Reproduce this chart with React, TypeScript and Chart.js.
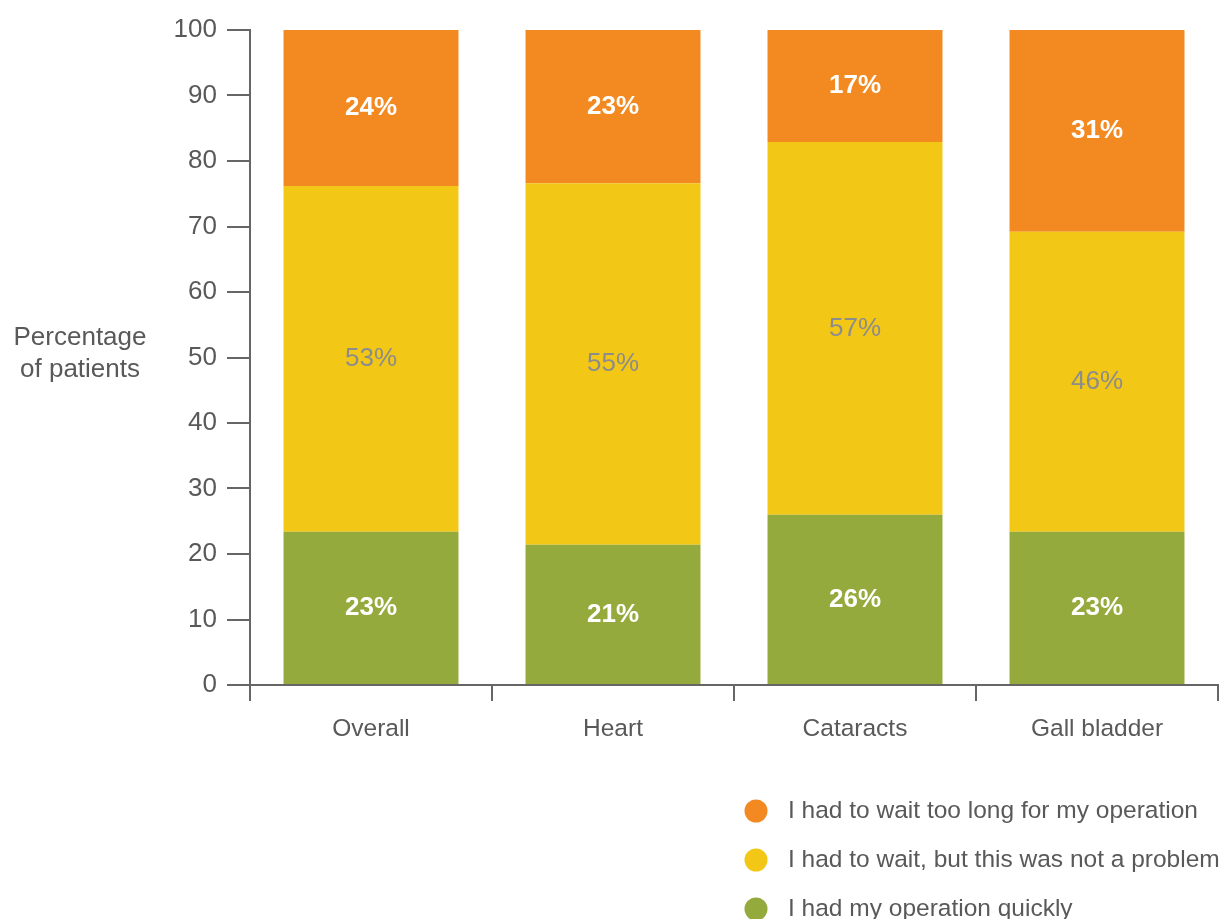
import React, { useEffect, useRef } from "react";
import { Chart, registerables } from "chart.js";

Chart.register(...registerables);

const categories = ["Overall", "Heart", "Cataracts", "Gall bladder"];
const quickly = [23.4, 21.4, 26.0, 23.4];
const waitNoProblem = [52.8, 55.2, 56.9, 45.8];
const waitTooLong = [23.8, 23.4, 17.1, 30.8];
const yTicks = [0, 10, 20, 30, 40, 50, 60, 70, 80, 90, 100];
const seriesNames = [
  "I had to wait too long for my operation",
  "I had to wait, but this was not a problem",
  "I had my operation quickly",
];
const yTitle = ["Percentage", "of patients"];

const ORANGE = "#F28A21";
const YELLOW = "#F2C716";
const GREEN = "#94AA3D";
const TEXT = "#595959";
const AXIS = "#666666";
const FONT = "'Liberation Sans', Arial, sans-serif";

const extrasPlugin = {
  id: "extras",
  afterDatasetsDraw(chart: any) {
    const ctx = chart.ctx;
    ctx.save();
    ctx.textAlign = "center";
    ctx.textBaseline = "middle";
    chart.data.datasets.forEach((ds: any, di: number) => {
      const meta = chart.getDatasetMeta(di);
      meta.data.forEach((el: any, i: number) => {
        const v = ds.data[i];
        const y = (el.y + el.base) / 2;
        ctx.font = ds.labelBold ? `bold 26px ${FONT}` : `26px ${FONT}`;
        ctx.fillStyle = ds.labelColor;
        ctx.fillText(Math.round(v) + "%", el.x, y);
      });
    });
    ctx.restore();
  },
  afterDraw(chart: any) {
    const ctx = chart.ctx;
    const area = chart.chartArea;
    ctx.save();
    // y axis title
    ctx.font = `26px ${FONT}`;
    ctx.fillStyle = TEXT;
    ctx.textAlign = "center";
    ctx.textBaseline = "middle";
    const midY = (area.top + area.bottom) / 2;
    ctx.fillText(yTitle[0], 80, midY - 20);
    ctx.fillText(yTitle[1], 80, midY + 12);
    // legend
    const order = [2, 1, 0];
    const lx = area.right - 462;
    order.forEach((di, k) => {
      const ds = chart.data.datasets[di];
      const cy = 811 + k * 49;
      ctx.beginPath();
      ctx.arc(lx, cy, 11.5, 0, Math.PI * 2);
      ctx.fillStyle = ds.backgroundColor;
      ctx.fill();
      ctx.fillStyle = TEXT;
      ctx.textAlign = "left";
      ctx.font = `24.5px ${FONT}`;
      ctx.fillText(ds.label, lx + 32, cy);
    });
    ctx.restore();
  },
};

export default function App() {
  const ref = useRef<HTMLCanvasElement>(null);
  useEffect(() => {
    document.body.style.margin = "0";
    const chart = new Chart(ref.current as HTMLCanvasElement, {
      type: "bar",
      data: {
        labels: categories,
        datasets: [
          {
            label: seriesNames[2],
            data: quickly,
            backgroundColor: GREEN,
            labelColor: "#ffffff",
            labelBold: true,
          } as any,
          {
            label: seriesNames[1],
            data: waitNoProblem,
            backgroundColor: YELLOW,
            labelColor: "#8C8C8C",
            labelBold: false,
          } as any,
          {
            label: seriesNames[0],
            data: waitTooLong,
            backgroundColor: ORANGE,
            labelColor: "#ffffff",
            labelBold: true,
          } as any,
        ],
      },
      options: {
        animation: false,
        responsive: false,
        devicePixelRatio: 1,
        layout: { padding: { top: 30, right: 3, left: 0, bottom: 0 } },
        datasets: {
          bar: { barPercentage: 0.723, categoryPercentage: 1.0 },
        },
        plugins: {
          legend: { display: false },
          tooltip: { enabled: false },
          title: { display: false },
        },
        scales: {
          x: {
            stacked: true,
            grid: {
              display: true,
              drawOnChartArea: false,
              drawTicks: true,
              tickLength: 16,
              color: AXIS,
              lineWidth: 2,
              offset: true,
            },
            border: { display: true, color: AXIS, width: 2 },
            ticks: {
              color: TEXT,
              font: { family: FONT, size: 24.5 },
              padding: 14,
            },
            afterFit(scale: any) {
              scale.height = 255;
            },
          },
          y: {
            stacked: true,
            min: 0,
            max: 100,
            grid: {
              display: true,
              drawOnChartArea: false,
              drawTicks: true,
              tickLength: 23,
              color: AXIS,
              lineWidth: 2,
            },
            border: { display: true, color: AXIS, width: 2 },
            afterBuildTicks(scale: any) {
              scale.ticks = yTicks.map((v) => ({ value: v }));
            },
            ticks: {
              color: TEXT,
              font: { family: FONT, size: 26 },
              padding: 10,
            },
            afterFit(scale: any) {
              scale.width = 250;
            },
          },
        },
      } as any,
      plugins: [extrasPlugin],
    });
    return () => chart.destroy();
  }, []);
  return (
    <div style={{ width: 1221, height: 940 }}>
      <canvas ref={ref} width={1221} height={940} style={{ display: "block" }} />
    </div>
  );
}
